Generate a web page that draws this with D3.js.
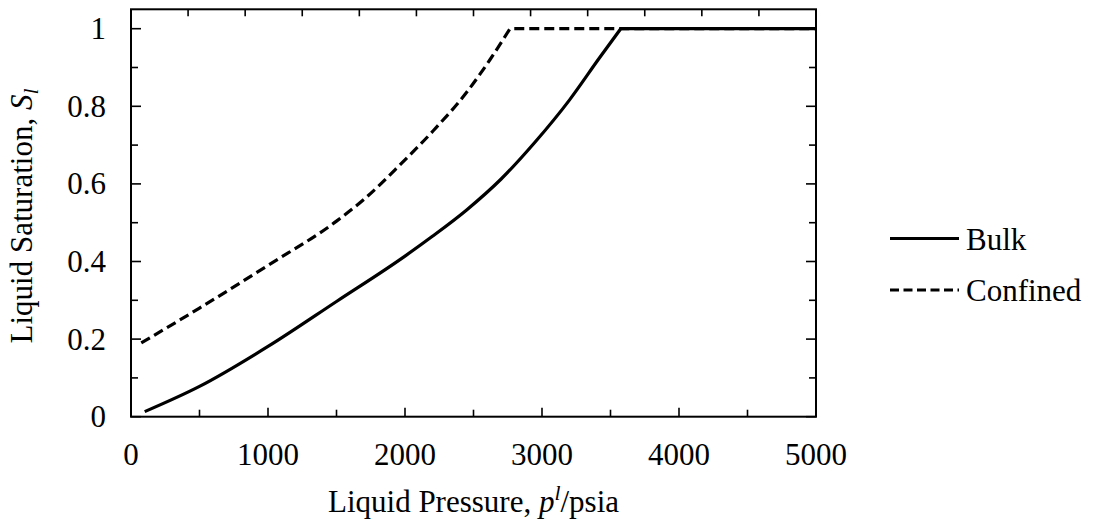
<!DOCTYPE html>
<html>
<head>
<meta charset="utf-8">
<script src="https://cdn.jsdelivr.net/npm/d3@7"></script>
<style>
  html, body { margin: 0; padding: 0; background: #fff; }
  svg { display: block; }
  text { font-family: "Liberation Serif", "Times New Roman", serif; fill: #000; }
</style>
</head>
<body>
<svg id="chart" width="1093" height="519"></svg>
<script>
// Liquid saturation vs. liquid pressure, bulk and confined fluid
const pressureBulk = [100, 500, 1000, 1500, 2000, 2200, 2450, 2700, 2950, 3200, 3420, 3575, 5000];
const saturationBulk = [0.013, 0.078, 0.181, 0.297, 0.414, 0.465, 0.533, 0.612, 0.708, 0.816, 0.925, 1.0, 1.0];

const pressureConfined = [75, 500, 1000, 1500, 1700, 1963, 2206, 2450, 2620, 2766, 5000];
const saturationConfined = [0.19, 0.28, 0.39, 0.504, 0.56, 0.649, 0.737, 0.836, 0.92, 1.0, 1.0];

const xTickValues = [0, 1000, 2000, 3000, 4000, 5000];
const yTickValues = [0, 0.2, 0.4, 0.6, 0.8, 1];
const yTickLabels = ["0", "0.2", "0.4", "0.6", "0.8", "1"];

const seriesNames = ["Bulk", "Confined"];

(function () {
  const svg = d3.select("#chart");
  const pLeft = 131, pRight = 816, pTop = 9.3, pBottom = 416.7;

  const x = d3.scaleLinear().domain([0, 5000]).range([pLeft, pRight]);
  const y = d3.scaleLinear().domain([0, 1.05]).range([pBottom, pTop]);
  // top axis carries 12 equal divisions
  const xTop = d3.scaleLinear().domain([0, 12]).range([pLeft, pRight]);

  const FS = 31;
  const g = svg.append("g");

  // smooth rising branch, then a straight plateau once fully saturated
  const smooth = d3.line()
    .x(d => x(d[0]))
    .y(d => y(d[1]))
    .curve(d3.curveMonotoneX);

  function curvePath(ps, ss) {
    const pts = ps.map((p, i) => [p, ss[i]]);
    const k = ss.indexOf(1.0);
    const rising = pts.slice(0, k + 1);
    const plateau = pts.slice(k + 1);
    let d = smooth(rising);
    plateau.forEach(pt => { d += "L" + x(pt[0]) + "," + y(pt[1]); });
    return d;
  }

  g.append("path")
    .attr("d", curvePath(pressureConfined, saturationConfined))
    .attr("fill", "none").attr("stroke", "#000")
    .attr("stroke-width", 3.2)
    .attr("stroke-dasharray", "10,5");

  g.append("path")
    .attr("d", curvePath(pressureBulk, saturationBulk))
    .attr("fill", "none").attr("stroke", "#000")
    .attr("stroke-width", 3.2);

  // ticks
  const tickG = g.append("g").attr("stroke", "#000").attr("stroke-width", 1.6);
  d3.range(0, 5001, 500).forEach(v => {
    const len = v % 1000 === 0 ? 9 : 7;
    tickG.append("line").attr("x1", x(v)).attr("x2", x(v))
      .attr("y1", pBottom).attr("y2", pBottom - len);
  });
  d3.range(1, 12).forEach(k => {
    tickG.append("line").attr("x1", xTop(k)).attr("x2", xTop(k))
      .attr("y1", pTop).attr("y2", pTop + 7);
  });
  d3.range(0, 11).forEach(k => {
    const v = k / 10;
    const len = k % 2 === 0 ? 10 : 7;
    tickG.append("line").attr("x1", pLeft).attr("x2", pLeft + len)
      .attr("y1", y(v)).attr("y2", y(v));
    tickG.append("line").attr("x1", pRight).attr("x2", pRight - len)
      .attr("y1", y(v)).attr("y2", y(v));
  });

  // frame
  g.append("rect")
    .attr("x", pLeft).attr("y", pTop)
    .attr("width", pRight - pLeft).attr("height", pBottom - pTop)
    .attr("fill", "none").attr("stroke", "#000").attr("stroke-width", 2);

  // tick labels
  xTickValues.forEach(v => {
    g.append("text").attr("x", x(v)).attr("y", 465)
      .attr("text-anchor", "middle").attr("font-size", FS).text(v);
  });
  yTickValues.forEach((v, i) => {
    g.append("text").attr("x", 106).attr("y", y(v) + 10.5)
      .attr("text-anchor", "end").attr("font-size", FS).text(yTickLabels[i]);
  });

  // axis titles
  const xt = g.append("text").attr("x", (pLeft + pRight) / 2).attr("y", 512)
    .attr("text-anchor", "middle").attr("font-size", FS);
  xt.append("tspan").text("Liquid Pressure, ");
  xt.append("tspan").attr("font-style", "italic").text("p");
  xt.append("tspan").attr("font-style", "italic").attr("font-size", FS * 0.7)
    .attr("dy", -12).text("l");
  xt.append("tspan").attr("dy", 12).text("/psia");

  const yt = g.append("text")
    .attr("transform", `translate(32,${(pTop + pBottom) / 2 + 3}) rotate(-90)`)
    .attr("text-anchor", "middle").attr("font-size", FS);
  yt.append("tspan").text("Liquid Saturation, ");
  yt.append("tspan").attr("font-style", "italic").text("S");
  yt.append("tspan").attr("font-style", "italic").attr("font-size", FS * 0.7)
    .attr("dy", 6).text("l");

  // legend
  const legend = g.append("g");
  seriesNames.forEach((name, i) => {
    const ly = 238.5 + i * 51.5;
    legend.append("line")
      .attr("x1", 890).attr("x2", 959).attr("y1", ly).attr("y2", ly)
      .attr("stroke", "#000").attr("stroke-width", 3.2)
      .attr("stroke-dasharray", i === 1 ? "9,4.5" : null);
    legend.append("text").attr("x", 966).attr("y", ly + 11)
      .attr("font-size", FS).text(name);
  });
})();
</script>
</body>
</html>
